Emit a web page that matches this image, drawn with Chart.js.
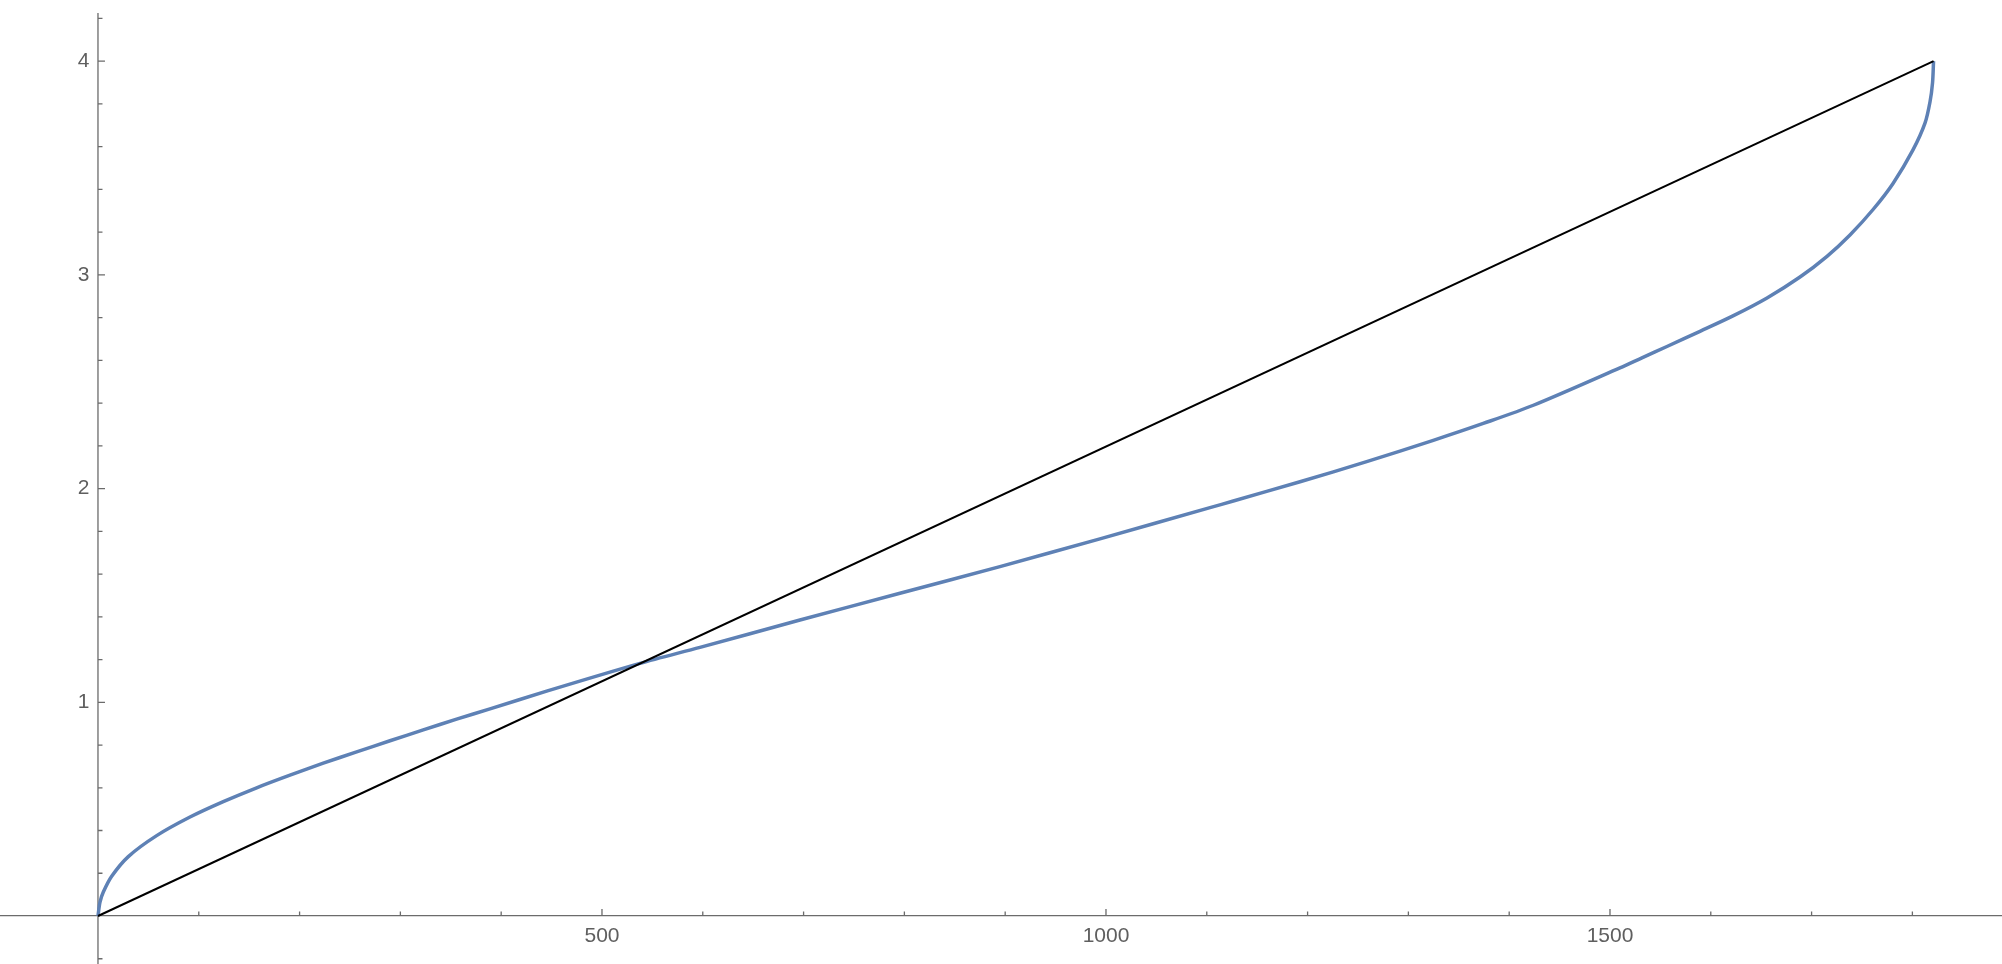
<!DOCTYPE html>
<html>
<head>
<meta charset="utf-8">
<script src="https://cdn.jsdelivr.net/npm/chart.js@4"></script>
<style>
  html, body { margin: 0; padding: 0; background: #fff; }
  canvas { display: block; }
</style>
</head>
<body>
<canvas id="curveChart" width="2002" height="964"></canvas>
<script>
// blue curve
const curveX = [0, 2, 5.3, 13.6, 30.1, 58.2, 91.3, 124.3, 157.4, 190.5, 223.5, 256.6, 289.7, 322.7,
  355.8, 388.9, 445.1, 537.7, 597.2, 696.4, 795.6, 894.8, 994, 1103.2, 1126.3, 1192.5, 1258.6,
  1324.7, 1374.3, 1424, 1509.9, 1531.7, 1556.5, 1589.3, 1622, 1655.8, 1688.5, 1715.3, 1738.1,
  1761, 1780.8, 1800.6, 1812.5, 1817.5, 1820, 1821];
const curveY = [0, 0.065, 0.112, 0.186, 0.278, 0.376, 0.463, 0.535, 0.6, 0.659, 0.715, 0.768,
  0.82, 0.871, 0.921, 0.969, 1.052, 1.182, 1.257, 1.385, 1.51, 1.635, 1.765, 1.911, 1.942, 2.032,
  2.126, 2.226, 2.305, 2.39, 2.565, 2.612, 2.665, 2.736, 2.808, 2.892, 2.99, 3.087, 3.187, 3.306,
  3.428, 3.585, 3.71, 3.81, 3.9, 4.0];

// straight black line
const lineX = [0, 1821];
const lineY = [0, 4];

const xTickLabels = [500, 1000, 1500];
const yTickLabels = [1, 2, 3, 4];
const xMinorTicks = [100, 200, 300, 400, 600, 700, 800, 900, 1100, 1200, 1300, 1400, 1600, 1700, 1800];
const yMinorTicks = [-0.2, 0.2, 0.4, 0.6, 0.8, 1.2, 1.4, 1.6, 1.8, 2.2, 2.4, 2.6, 2.8, 3.2, 3.4, 3.6, 3.8, 4.2];

const axisColor = "#6b6b6b";
const labelColor = "#5f5f5f";
const labelFont = { family: "'Liberation Sans', Arial, sans-serif", size: 21 };

// axes take no room: the plot fills the whole canvas
function noRoom(s) {
  if (s.isHorizontal()) s.height = 0; else s.width = 0;
  s.paddingTop = 0;
  s.paddingBottom = 0;
  s.paddingLeft = 0;
  s.paddingRight = 0;
}

// y axis line and the inward tick marks, Mathematica style
const axisTicks = {
  id: "axisTicks",
  beforeDatasetsDraw(chart) {
    const { ctx, chartArea, scales: { x, y } } = chart;
    const x0 = x.getPixelForValue(0);
    const y0 = y.getPixelForValue(0);
    ctx.save();
    ctx.strokeStyle = axisColor;
    ctx.lineWidth = 1.3;
    ctx.beginPath();
    ctx.moveTo(x0, chartArea.top);
    ctx.lineTo(x0, chartArea.bottom);
    xTickLabels.forEach(v => { const p = x.getPixelForValue(v); ctx.moveTo(p, y0); ctx.lineTo(p, y0 - 7); });
    xMinorTicks.forEach(v => { const p = x.getPixelForValue(v); ctx.moveTo(p, y0); ctx.lineTo(p, y0 - 4.5); });
    yTickLabels.forEach(v => { const p = y.getPixelForValue(v); ctx.moveTo(x0, p); ctx.lineTo(x0 + 7, p); });
    yMinorTicks.forEach(v => { const p = y.getPixelForValue(v); ctx.moveTo(x0, p); ctx.lineTo(x0 + 4.5, p); });
    ctx.stroke();
    ctx.restore();
  }
};

const ctx = document.getElementById("curveChart").getContext("2d");

new Chart(ctx, {
  type: "scatter",
  data: {
    datasets: [
      {
        label: "line",
        data: lineX.map((v, i) => ({ x: v, y: lineY[i] })),
        showLine: true,
        borderColor: "#000000",
        borderWidth: 2,
        pointRadius: 0,
        order: 0
      },
      {
        label: "curve",
        data: curveX.map((v, i) => ({ x: v, y: curveY[i] })),
        showLine: true,
        borderColor: "#5e81b5",
        borderWidth: 3.5,
        pointRadius: 0,
        tension: 0.3,
        order: 1
      }
    ]
  },
  options: {
    responsive: false,
    animation: false,
    layout: { padding: { top: 13 } },
    plugins: {
      legend: { display: false },
      tooltip: { enabled: false }
    },
    scales: {
      x: {
        type: "linear",
        min: -97.2,
        max: 1888.9,
        position: { y: 0 },
        afterFit: noRoom,
        afterBuildTicks: s => { s.ticks = xTickLabels.map(v => ({ value: v })); },
        grid: { display: false, drawTicks: false },
        border: { display: true, color: axisColor, width: 1.3 },
        ticks: {
          padding: 7.5, color: labelColor, font: labelFont,
          maxRotation: 0, minRotation: 0, autoSkip: false,
          callback: v => String(v)
        }
      },
      y: {
        type: "linear",
        min: -0.2246,
        max: 4.2255,
        position: { x: -8.5 },
        afterFit: noRoom,
        afterBuildTicks: s => { s.ticks = yTickLabels.map(v => ({ value: v })); },
        grid: { display: false, drawTicks: false },
        border: { display: false },
        ticks: { color: labelColor, font: labelFont, autoSkip: false, callback: v => String(v) }
      }
    }
  },
  plugins: [axisTicks]
});
</script>
</body>
</html>
